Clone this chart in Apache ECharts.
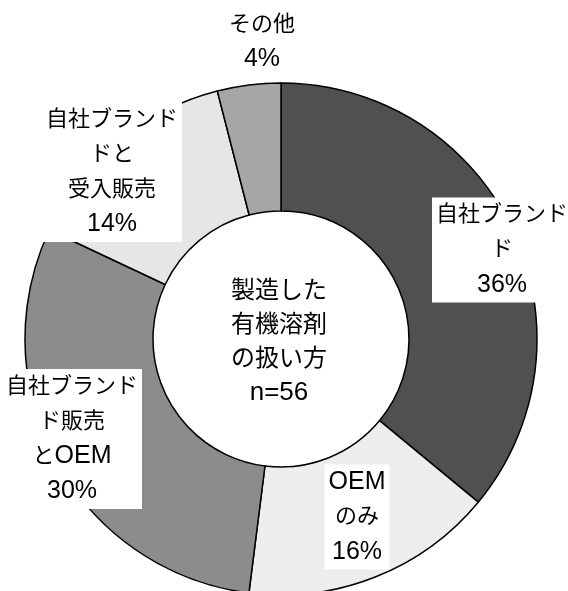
<!DOCTYPE html>
<html>
<head>
<meta charset="utf-8">
<script src="https://cdn.jsdelivr.net/npm/echarts@6/dist/echarts.min.js"></script>
<style>
html,body{margin:0;padding:0;background:#fff;}
#chart{width:568px;height:591px;}
</style>
</head>
<body>
<div id="chart"></div>
<script>
// Data
const categories = ['自社ブランド', 'OEMのみ', '自社ブランド販売とOEM', '自社ブランドと受入販売', 'その他'];
const labelLines = ['自社ブランド\nド', 'OEM\nのみ', '自社ブランド\nド販売\nとOEM', '自社ブランド\nドと\n受入販売', 'その他'];
const values = [36, 16, 30, 14, 4];
const centerLines = ['製造した', '有機溶剤', 'の扱い方', 'n=56'];

// Style
const colors = ['#505050', '#ededed', '#8c8c8c', '#e6e6e6', '#a6a6a6'];
const labelPos = [[502, 250], [357, 517], [72, 439], [112, 172], [262, 42]];
const FONT = '"Liberation Sans", "Noto Sans CJK JP", sans-serif';

function richify(s) {
  return s.split('\n').map(line =>
    line.replace(/[A-Za-z0-9%=]+/g, m => '{l|' + m + '}')
        .replace(/(^|\})([^{}]+)(?=\{|$)/g, (m, a, b) => a + '{c|' + b + '}')
  ).join('\n');
}
const rich = {
  c: { fontFamily: FONT, fontSize: 22, lineHeight: 35, color: '#000' },
  l: { fontFamily: FONT, fontSize: 25, lineHeight: 35, color: '#000' }
};

const chart = echarts.init(document.getElementById('chart'));
chart.setOption({
  backgroundColor: '#fff',
  animation: false,
  series: [{
    type: 'pie',
    center: [281, 339],
    radius: [128, 256],
    startAngle: 90,
    clockwise: true,
    avoidLabelOverlap: false,
    itemStyle: { borderColor: '#000', borderWidth: 1.5 },
    label: {
      show: true,
      position: 'inside',
      color: '#000',
      fontFamily: FONT,
      fontSize: 22,
      lineHeight: 35,
      align: 'center',
      formatter: p => richify(labelLines[p.dataIndex] + '\n' + p.value + '%'),
      rich: rich,
      backgroundColor: '#fff',
      padding: [0, 4, 0, 4]
    },
    labelLine: { show: false },
    labelLayout: p => ({
      x: labelPos[p.dataIndex][0],
      y: labelPos[p.dataIndex][1],
      align: 'center',
      verticalAlign: 'middle'
    }),
    emphasis: { disabled: true },
    data: categories.map((c, i) => ({ name: c, value: values[i], itemStyle: { color: colors[i] } }))
  }],
  graphic: [{
    type: 'text',
    x: 279,
    y: 342,
    style: {
      text: richify(centerLines.join('\n')),
      rich: {
        c: { fontFamily: FONT, fontSize: 24, lineHeight: 34, fill: '#000', align: 'center' },
        l: { fontFamily: FONT, fontSize: 26, lineHeight: 34, fill: '#000', align: 'center' }
      },
      fontFamily: FONT,
      fontSize: 24,
      lineHeight: 34,
      fill: '#000',
      align: 'center',
      verticalAlign: 'middle'
    }
  }]
});
</script>
</body>
</html>
